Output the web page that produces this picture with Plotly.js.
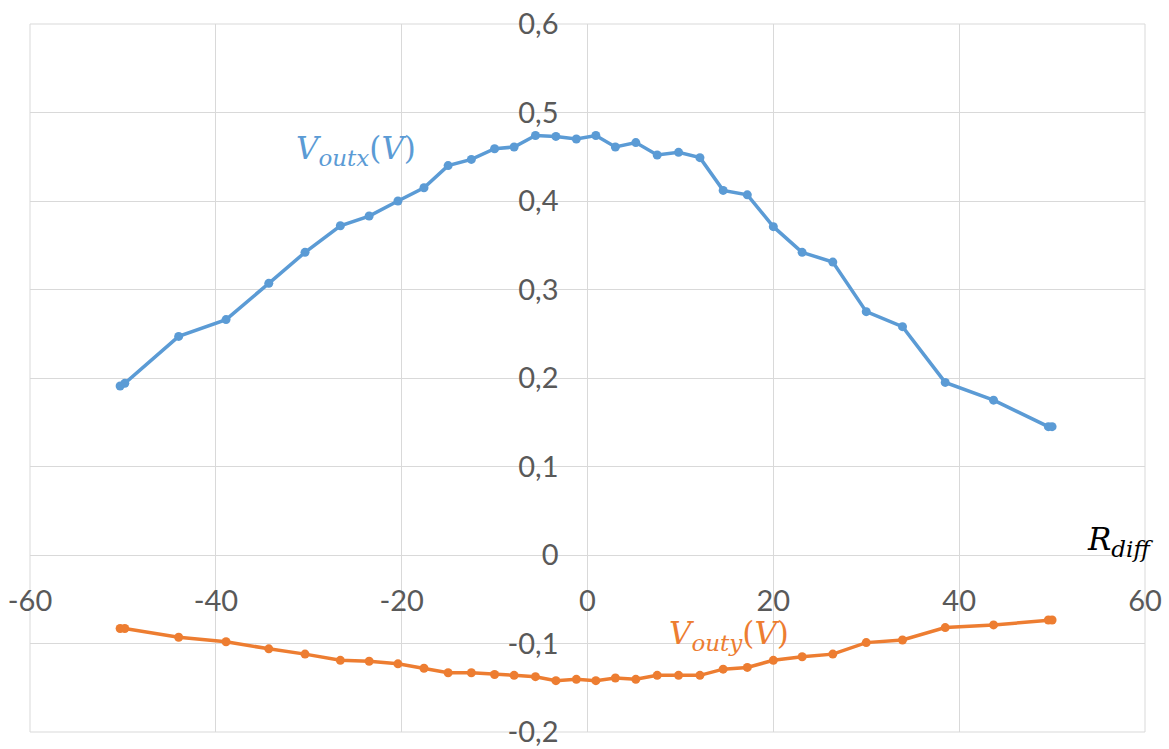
<!DOCTYPE html>
<html>
<head>
<meta charset="utf-8">
<script src="https://cdn.plot.ly/plotly-3.0.1.min.js"></script>
<style>html,body{margin:0;padding:0;background:#fff;}#chart{width:1169px;height:749px;}</style>
</head>
<body>
<div id="chart"></div>
<script>
// Rdiff values (x)
var rdiff = [-50.3, -49.8, -44.0, -38.9, -34.3, -30.4, -26.6, -23.5, -20.4, -17.6, -15.0, -12.5, -10.0, -7.9, -5.6, -3.4, -1.2, 0.9, 3.0, 5.2, 7.5, 9.8, 12.1, 14.6, 17.2, 20.0, 23.1, 26.4, 30.0, 33.9, 38.5, 43.7, 49.6, 50.0];
// Voutx (V)
var voutx = [0.191, 0.194, 0.247, 0.266, 0.307, 0.342, 0.372, 0.383, 0.400, 0.415, 0.440, 0.447, 0.459, 0.461, 0.474, 0.473, 0.470, 0.474, 0.461, 0.466, 0.452, 0.455, 0.449, 0.412, 0.407, 0.371, 0.342, 0.331, 0.275, 0.258, 0.195, 0.175, 0.145, 0.145];
// Vouty (V)
var vouty = [-0.083, -0.083, -0.093, -0.098, -0.106, -0.112, -0.119, -0.120, -0.123, -0.128, -0.133, -0.133, -0.135, -0.136, -0.1375, -0.142, -0.1405, -0.142, -0.139, -0.1405, -0.136, -0.136, -0.136, -0.129, -0.127, -0.119, -0.115, -0.112, -0.099, -0.096, -0.082, -0.079, -0.0735, -0.0735];

var xTickVals = [-60, -40, -20, 0, 20, 40, 60];
var xTickText = ['-60', '-40', '-20', '0', '20', '40', '60'];
var yTickVals = [-0.2, -0.1, 0, 0.1, 0.2, 0.3, 0.4, 0.5, 0.6];
var yTickText = ['-0,2', '-0,1', '0', '0,1', '0,2', '0,3', '0,4', '0,5', '0,6'];

var blue = '#5b9bd5', orange = '#ed7d31', grid = '#d9d9d9';
var tickFont = {family: 'Lato, "Open Sans", sans-serif', size: 29, color: '#595959'};
var mathFont = '"DejaVu Serif", "Liberation Serif", serif';

function mathLabel(main, sub, tail) {
  return '<i>' + main + '</i><sub><span style="font-size:23px"><i>' + sub + '</i></span></sub>' + tail;
}

var traces = [
  {x: rdiff, y: voutx, mode: 'lines+markers', line: {color: blue, width: 3.5}, marker: {color: blue, size: 9}, name: 'Voutx'},
  {x: rdiff, y: vouty, mode: 'lines+markers', line: {color: orange, width: 3.5}, marker: {color: orange, size: 9}, name: 'Vouty'}
];

var layout = {
  width: 1169, height: 749,
  margin: {l: 30, r: 24, t: 24, b: 17, pad: 0},
  paper_bgcolor: '#fff', plot_bgcolor: '#fff',
  showlegend: false,
  xaxis: {
    range: [-60, 60], tickvals: xTickVals, ticktext: xTickText,
    anchor: 'free', position: 0.25, automargin: false,
    showgrid: true, gridcolor: grid, gridwidth: 1,
    zeroline: true, zerolinecolor: grid, zerolinewidth: 1,
    showline: false, ticks: '', ticklabelstandoff: 26,
    tickfont: tickFont
  },
  yaxis: {
    range: [-0.2, 0.6], tickvals: yTickVals, ticktext: yTickText,
    anchor: 'free', position: 0.5, automargin: false,
    showgrid: true, gridcolor: grid, gridwidth: 1,
    zeroline: true, zerolinecolor: grid, zerolinewidth: 1,
    showline: false, ticks: '', ticklabelstandoff: 29,
    tickfont: tickFont
  },
  shapes: [
    {type: 'rect', xref: 'paper', yref: 'paper', x0: 0, x1: 1, y0: 0, y1: 1, line: {color: grid, width: 1}, layer: 'below'}
  ],
  annotations: [
    {x: -31.6, y: 0.457, xref: 'x', yref: 'y', xanchor: 'left', yanchor: 'middle', showarrow: false,
     text: mathLabel('V', 'outx', '(<i>V</i>)'), font: {family: mathFont, size: 31, color: blue}},
    {x: 8.6, y: -0.091, xref: 'x', yref: 'y', xanchor: 'left', yanchor: 'middle', showarrow: false,
     text: mathLabel('V', 'outy', '(<i>V</i>)'), font: {family: mathFont, size: 31, color: orange}},
    {x: 53.5, y: 0.015, xref: 'x', yref: 'y', xanchor: 'left', yanchor: 'middle', showarrow: false,
     text: mathLabel('R', 'diff', ''), font: {family: mathFont, size: 31, color: '#000'}}
  ]
};

Plotly.newPlot('chart', traces, layout, {displayModeBar: false, staticPlot: true});
</script>
</body>
</html>
